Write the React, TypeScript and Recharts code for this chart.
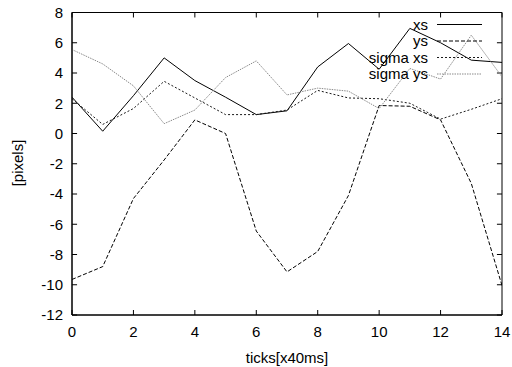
import React from 'react';
import { LineChart, Line, XAxis, YAxis, Label, ReferenceLine, ReferenceArea } from 'recharts';

const ticksX = [0, 1, 2, 3, 4, 5, 6, 7, 8, 9, 10, 11, 12, 13, 14];
const xs = [2.4, 0.15, 2.5, 5.0, 3.5, 2.4, 1.25, 1.5, 4.4, 5.95, 4.25, 6.95, 6.0, 4.85, 4.7];
const ys = [-9.65, -8.8, -4.3, -1.75, 0.9, 0.0, -6.45, -9.15, -7.8, -4.1, 1.85, 1.8, 0.9, -3.3, -10.05];
const sigmaXs = [2.3, 0.6, 1.65, 3.45, 2.35, 1.25, 1.25, 1.55, 2.85, 2.35, 2.3, 2.0, 0.95, 1.6, 2.3];
const sigmaYs = [5.55, 4.6, 3.15, 0.65, 1.55, 3.7, 4.8, 2.55, 3.0, 2.8, 1.65, 4.3, 3.6, 6.5, 3.75];

const xTickLabels = [0, 2, 4, 6, 8, 10, 12, 14];
const yTickLabels = [-12, -10, -8, -6, -4, -2, 0, 2, 4, 6, 8];

const seriesNames = ['xs', 'ys', 'sigma xs', 'sigma ys'];

const X_MIN = 0;
const X_MAX = 14;
const Y_MIN = -12;
const Y_MAX = 8;
// inward tick length expressed in axis units (~5px)
const TICK_X_UNITS = 0.165;
const TICK_Y_UNITS = 0.33;

const data = ticksX.map((t, i) => ({
  t,
  xs: xs[i],
  ys: ys[i],
  sigmaXs: sigmaXs[i],
  sigmaYs: sigmaYs[i],
}));

const FONT = '"Liberation Sans", Arial, Helvetica, sans-serif';
const FS = 15;

const styles = [
  { key: 'xs', stroke: '#000000', dash: undefined as string | undefined },
  { key: 'ys', stroke: '#000000', dash: '4 2' },
  { key: 'sigmaXs', stroke: '#1a1a1a', dash: '2 2' },
  { key: 'sigmaYs', stroke: '#8a8a8a', dash: '1.5 1' },
];

const LegendBox = () => (
  <svg
    width={200}
    height={72}
    style={{ position: 'absolute', left: 300, top: 14, display: 'block', overflow: 'visible' }}
  >
    {seriesNames.map((name, i) => {
      const cy = 10.5 + i * 16.5;
      return (
        <g key={name}>
          <text
            x={128}
            y={cy + 5}
            textAnchor="end"
            fontFamily={FONT}
            fontSize={FS}
            fill="#000"
          >
            {name}
          </text>
          <line
            x1={137}
            x2={182}
            y1={cy}
            y2={cy}
            stroke={styles[i].stroke}
            strokeDasharray={styles[i].dash}
            strokeWidth={1}
          />
        </g>
      );
    })}
  </svg>
);

export default function App() {
  return (
    <div style={{ position: 'absolute', left: 0, top: 0, width: 512, height: 367, background: '#fff' }}>
      <LineChart
        width={512}
        height={367}
        data={data}
        margin={{ top: 12.5, right: 10, bottom: 22, left: 12 }}
      >
        <XAxis
          dataKey="t"
          type="number"
          domain={[X_MIN, X_MAX]}
          allowDataOverflow
          ticks={xTickLabels}
          height={30}
          tickLine={false}
          tickSize={0}
          tickMargin={11}
          axisLine={{ stroke: '#000', strokeWidth: 1 }}
          tick={{ fill: '#000', fontFamily: FONT, fontSize: FS }}
          interval={0}
        >
          <Label
            content={() => (
              <text x={287} y={363} textAnchor="middle" fontFamily={FONT} fontSize={FS} fill="#000">
                ticks[x40ms]
              </text>
            )}
          />
        </XAxis>
        <YAxis
          type="number"
          domain={[Y_MIN, Y_MAX]}
          allowDataOverflow
          ticks={yTickLabels}
          width={60}
          tickLine={false}
          tickSize={0}
          tickMargin={9}
          axisLine={{ stroke: '#000', strokeWidth: 1 }}
          tick={{ fill: '#000', fontFamily: FONT, fontSize: FS }}
          interval={0}
        >
          <Label
            content={() => (
              <text
                x={23}
                y={163}
                transform="rotate(-90 23 163)"
                textAnchor="middle"
                fontFamily={FONT}
                fontSize={FS}
                fill="#000"
              >
                [pixels]
              </text>
            )}
          />
        </YAxis>
        <ReferenceArea
          x1={X_MIN}
          x2={X_MAX}
          y1={Y_MIN}
          y2={Y_MAX}
          fill="none"
          fillOpacity={0}
          stroke="#000"
          strokeWidth={1}
          strokeOpacity={1}
          ifOverflow="visible"
        />
        {xTickLabels.map((t) => (
          <ReferenceLine
            key={`xb${t}`}
            segment={[{ x: t, y: Y_MIN }, { x: t, y: Y_MIN + TICK_Y_UNITS }]}
            stroke="#000"
            strokeWidth={1}
            ifOverflow="visible"
          />
        ))}
        {xTickLabels.map((t) => (
          <ReferenceLine
            key={`xt${t}`}
            segment={[{ x: t, y: Y_MAX }, { x: t, y: Y_MAX - TICK_Y_UNITS }]}
            stroke="#000"
            strokeWidth={1}
            ifOverflow="visible"
          />
        ))}
        {yTickLabels.map((v) => (
          <ReferenceLine
            key={`yl${v}`}
            segment={[{ x: X_MIN, y: v }, { x: X_MIN + TICK_X_UNITS, y: v }]}
            stroke="#000"
            strokeWidth={1}
            ifOverflow="visible"
          />
        ))}
        {yTickLabels.map((v) => (
          <ReferenceLine
            key={`yr${v}`}
            segment={[{ x: X_MAX, y: v }, { x: X_MAX - TICK_X_UNITS, y: v }]}
            stroke="#000"
            strokeWidth={1}
            ifOverflow="visible"
          />
        ))}
        {styles.map((s, i) => (
          <Line
            key={s.key}
            dataKey={s.key}
            name={seriesNames[i]}
            stroke={s.stroke}
            strokeDasharray={s.dash}
            strokeWidth={1}
            dot={false}
            activeDot={false}
            type="linear"
            isAnimationActive={false}
          />
        ))}
      </LineChart>
      <LegendBox />
    </div>
  );
}
